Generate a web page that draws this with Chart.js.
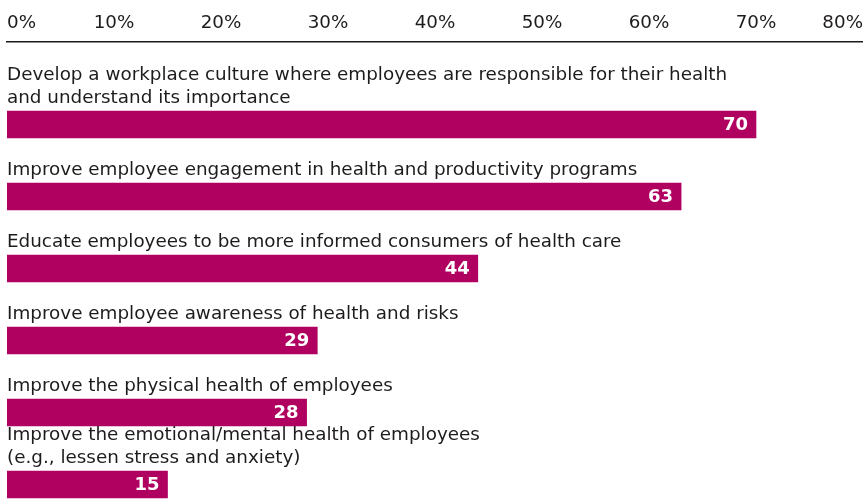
<!DOCTYPE html>
<html>
<head>
<meta charset="utf-8">
<script src="https://cdn.jsdelivr.net/npm/chart.js@4"></script>
<style>
    html, body { margin: 0; padding: 0; background: #ffffff; overflow: hidden; }
    #wrap { width: 863px; height: 503px; position: relative; }
</style>
</head>
<body>
<div id="wrap"><canvas id="goals"></canvas></div>
<script>
// Survey goals (share of respondents, %)
const categories = [
    ['Develop a workplace culture where employees are responsible for their health', 'and understand its importance'],
    ['Improve employee engagement in health and productivity programs'],
    ['Educate employees to be more informed consumers of health care'],
    ['Improve employee awareness of health and risks'],
    ['Improve the physical health of employees'],
    ['Improve the emotional/mental health of employees', '(e.g., lessen stress and anxiety)']
];
const values = [70, 63, 44, 29, 28, 15];
const axisMin = 0;
const axisMax = 80;
const axisStep = 10;

const barColor = '#b00060';
const textColor = '#1e1b1c';
const labelFont = '18.35px "DejaVu Sans"';
const valueFont = 'bold 18px "DejaVu Sans"';

// Writes the category text above each bar and the value inside its end
const barText = {
    id: 'barText',
    afterDatasetsDraw: function (chart) {
        const ctx = chart.ctx;
        const meta = chart.getDatasetMeta(0);
        ctx.save();
        meta.data.forEach(function (bar, i) {
            const top = bar.y - bar.height / 2;
            const lines = categories[i];

            ctx.font = labelFont;
            ctx.fillStyle = textColor;
            ctx.textAlign = 'left';
            ctx.textBaseline = 'alphabetic';
            for (let k = 0; k < lines.length; k++) {
                const y = top - 7.5 - (lines.length - 1 - k) * 23.5;
                ctx.fillText(lines[k], chart.chartArea.left, y);
            }

            ctx.font = valueFont;
            ctx.fillStyle = '#ffffff';
            ctx.textAlign = 'right';
            ctx.textBaseline = 'middle';
            ctx.fillText(String(values[i]), bar.x - 8, bar.y + 1);
        });
        ctx.restore();
    }
};

new Chart(document.getElementById('goals'), {
    type: 'bar',
    data: {
        datasets: [{
            data: values.map(function (v, i) { return { x: v, y: i }; }),
            backgroundColor: barColor,
            borderWidth: 0,
            barThickness: 27
        }]
    },
    options: {
        indexAxis: 'y',
        responsive: true,
        maintainAspectRatio: false,
        animation: false,
        layout: { padding: { left: 7, right: 0, top: 4, bottom: 0 } },
        plugins: {
            legend: { display: false },
            tooltip: { enabled: false }
        },
        scales: {
            x: {
                position: 'top',
                min: axisMin,
                max: axisMax,
                grid: { display: false, drawTicks: false },
                border: { display: true, color: '#1a1a1a', width: 1.5 },
                ticks: {
                    stepSize: axisStep,
                    align: 'inner',
                    padding: 8,
                    color: textColor,
                    font: { family: 'DejaVu Sans', size: 18.3 },
                    callback: function (v) { return v + '%'; }
                },
                // first/last labels sit inside, so no side padding is needed
                afterFit: function (scale) {
                    scale.paddingLeft = 0;
                    scale.paddingRight = 0;
                }
            },
            y: {
                type: 'linear',
                reverse: true,
                offset: false,
                bounds: 'data',
                min: -1.146,
                max: 5.257,
                display: false
            }
        }
    },
    plugins: [barText]
});
</script>
</body>
</html>
